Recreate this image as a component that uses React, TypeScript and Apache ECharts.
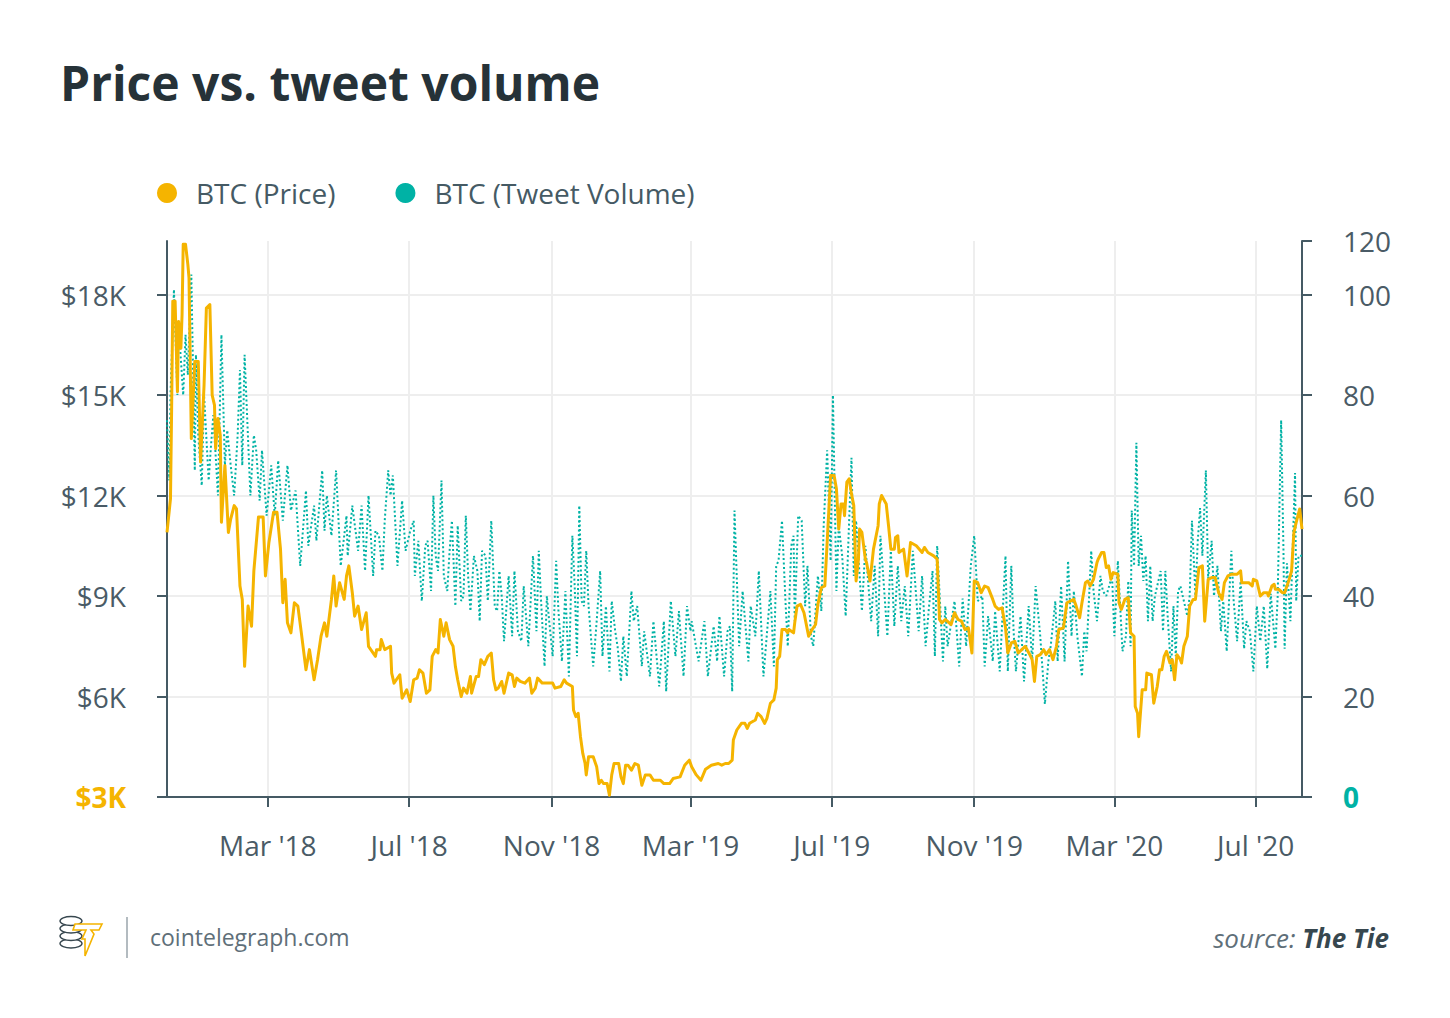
import React, { useEffect, useRef } from "react";
import * as echarts from "echarts";

// ---------- data ----------
// x categories: one per day, starting at START_DATE
const START_DATE = Date.UTC(2017, 11, 4);
const DAY_COUNT = 981;
const MONTH_NAMES = ["Jan", "Feb", "Mar", "Apr", "May", "Jun", "Jul", "Aug", "Sep", "Oct", "Nov", "Dec"];
const TICK_MONTHS = [3, 7, 11];

// left axis (price)
const PRICE_MIN = 3000;
const PRICE_MAX = 19600;
const PRICE_TICKS = [3000, 6000, 9000, 12000, 15000, 18000];
// right axis (tweet volume)
const TWEET_MIN = 0;
const TWEET_STEP = 20;
const TWEET_MAX = (PRICE_MAX - PRICE_MIN) / 150;
const TWEET_TOP_LABEL = "120";

const SERIES_NAMES = ["BTC (Price)", "BTC (Tweet Volume)"];

// [day index since START_DATE, USD]
const BTC_PRICE: [number, number][] = [
  [0, 10900], [3, 11900], [4, 14600], [5, 17800], [7, 17800], [9, 15100], [10, 17200], [12, 16400], [13, 17400], [14, 19500],
  [16, 19500], [18, 18900], [19, 18500], [21, 13700], [24, 16000], [27, 16000], [29, 13000], [32, 15300], [34, 17600], [37, 17700],
  [39, 15000], [41, 14700], [42, 13400], [44, 14300], [46, 13800], [47, 11200], [50, 12900], [53, 10900], [55, 11300], [58, 11700],
  [60, 11600], [63, 9300], [65, 8900], [67, 6900], [70, 8700], [73, 8100], [75, 9750], [79, 11360], [83, 11360], [85, 9600],
  [88, 10600], [92, 11500], [95, 11500], [98, 10400], [100, 8800], [102, 9500], [104, 8200], [107, 7900], [110, 8800], [113, 8700],
  [116, 7900], [120, 6800], [123, 7400], [127, 6500], [130, 7100], [133, 7800], [136, 8200], [138, 7800], [142, 8900], [144, 9600],
  [146, 8700], [149, 9400], [153, 8900], [155, 9600], [157, 9900], [160, 9100], [162, 8400], [165, 8700], [168, 8000], [172, 8500],
  [174, 7500], [180, 7200], [181, 7400], [184, 7400], [185, 7700], [188, 7400], [193, 7500], [194, 6700], [196, 6400], [201, 6650],
  [203, 5950], [207, 6200], [210, 5850], [213, 6500], [216, 6550], [218, 6800], [221, 6700], [224, 6100], [227, 6200], [229, 7200],
  [232, 7400], [234, 7300], [236, 8300], [239, 7800], [241, 8200], [244, 7700], [247, 7500], [249, 6900], [251, 6500], [254, 6000],
  [256, 6250], [259, 6100], [262, 6600], [263, 6100], [267, 6600], [269, 6600], [271, 7100], [274, 6950], [277, 7200], [280, 7300],
  [282, 6500], [284, 6200], [286, 6250], [289, 6450], [291, 6100], [295, 6700], [298, 6650], [300, 6300], [302, 6550], [305, 6450],
  [309, 6400], [313, 6550], [315, 6100], [318, 6250], [320, 6550], [324, 6400], [333, 6400], [335, 6250], [340, 6300], [343, 6500],
  [345, 6400], [350, 6300], [351, 5600], [353, 5400], [355, 5500], [357, 4800], [359, 4300], [361, 4000], [362, 3660], [364, 4200],
  [368, 4200], [371, 3900], [373, 3400], [375, 3500], [377, 3400], [380, 3400], [382, 3050], [384, 3660], [386, 4000], [390, 4000],
  [392, 3600], [394, 3400], [396, 3950], [398, 3950], [401, 3800], [404, 4000], [407, 3950], [410, 3350], [413, 3660], [417, 3660],
  [420, 3500], [426, 3500], [429, 3400], [434, 3400], [437, 3550], [443, 3600], [447, 3950], [451, 4100], [453, 3900], [457, 3660],
  [461, 3500], [465, 3830], [470, 3950], [476, 4000], [479, 3950], [482, 4000], [485, 4000], [488, 4100], [489, 4700], [492, 5000],
  [496, 5200], [499, 5200], [501, 5050], [503, 5200], [508, 5300], [510, 5500], [513, 5400], [516, 5200], [518, 5350], [521, 5800],
  [524, 5900], [526, 6250], [527, 7100], [529, 7200], [531, 8000], [534, 8000], [536, 7900], [537, 8000], [541, 7900], [542, 8200],
  [544, 8700], [547, 8750], [550, 8500], [554, 7800], [557, 8000], [560, 8150], [562, 8750], [565, 9250], [568, 9300], [570, 10600],
  [573, 12600], [576, 12600], [578, 12200], [580, 11000], [582, 11750], [584, 11750], [585, 11400], [587, 12400], [589, 12500], [591, 12050],
  [593, 11700], [595, 9450], [597, 10100], [598, 11000], [600, 10900], [603, 10100], [604, 10000], [607, 9450], [610, 10400], [614, 11100],
  [615, 11750], [617, 12000], [621, 11750], [623, 11100], [625, 10400], [628, 10400], [629, 10750], [631, 10800], [632, 10300], [636, 10400],
  [639, 9600], [642, 10600], [647, 10500], [652, 10300], [654, 10450], [657, 10300], [662, 10200], [665, 10100], [667, 8300], [669, 8200],
  [672, 8300], [677, 8150], [680, 8500], [683, 8300], [686, 8250], [689, 8000], [692, 8050], [695, 7300], [697, 9450], [700, 9400],
  [703, 9100], [706, 9300], [709, 9250], [713, 8900], [715, 8700], [718, 8600], [721, 8650], [724, 8050], [726, 7300], [729, 7600],
  [732, 7650], [735, 7300], [738, 7400], [741, 7500], [745, 7250], [747, 7100], [749, 6450], [751, 7200], [754, 7250], [757, 7400],
  [759, 7250], [762, 7400], [765, 7100], [768, 7500], [770, 8000], [774, 8050], [777, 8800], [780, 8850], [783, 8900], [785, 8700],
  [788, 8350], [790, 8800], [793, 9400], [795, 9450], [797, 9300], [800, 9500], [803, 10000], [804, 10100], [807, 10300], [809, 10300],
  [811, 9850], [813, 9900], [815, 9500], [817, 9700], [821, 9650], [822, 8800], [824, 8600], [827, 8900], [830, 8950], [832, 7900],
  [835, 7800], [836, 5700], [838, 5500], [839, 4800], [842, 6200], [845, 6200], [846, 6700], [850, 6650], [852, 5800], [855, 6300],
  [857, 6800], [859, 6800], [861, 7200], [863, 7350], [866, 7000], [868, 7100], [870, 6500], [872, 7250], [875, 7100], [876, 7000],
  [878, 7500], [881, 7800], [883, 8700], [886, 8900], [888, 8900], [891, 9850], [894, 9900], [896, 8250], [899, 9500], [902, 9550],
  [905, 9550], [908, 9100], [911, 8900], [913, 9400], [916, 9600], [919, 9650], [924, 9650], [927, 9750], [928, 9400], [931, 9400],
  [934, 9400], [937, 9300], [938, 9500], [941, 9450], [944, 9000], [947, 9100], [950, 9100], [951, 9000], [954, 9300], [956, 9350],
  [957, 9200], [960, 9200], [963, 9100], [965, 9100], [967, 9300], [969, 9500], [971, 9750], [973, 10900], [975, 11200], [978, 11600],
  [980, 11000],
];

// [day index since START_DATE, tweet volume]
const BTC_TWEETS: [number, number][] = [
  [0, 75], [2, 63], [3, 80], [6, 101], [9, 80], [10, 94], [14, 80], [16, 92], [18, 84], [21, 104],
  [24, 65], [25, 88], [27, 72], [30, 62], [32, 80], [36, 63], [38, 70], [40, 76], [44, 60], [47, 92],
  [50, 66], [52, 73], [55, 66], [58, 60], [61, 72], [63, 85], [65, 66], [67, 88], [72, 60], [75, 72],
  [77, 69], [80, 59], [82, 69], [86, 56], [90, 66], [93, 56], [96, 67], [100, 55], [104, 66], [107, 57],
  [111, 61], [115, 46], [120, 61], [122, 50], [127, 58], [129, 51], [134, 65], [136, 53], [138, 60], [142, 52],
  [146, 65], [150, 46], [155, 56], [156, 48], [160, 58], [165, 49], [168, 58], [171, 45], [174, 60], [178, 44],
  [180, 53], [183, 52], [186, 45], [188, 55], [191, 65], [193, 60], [195, 64], [199, 46], [203, 59], [206, 49],
  [210, 53], [213, 55], [214, 44], [217, 51], [220, 39], [223, 50], [225, 51], [228, 41], [230, 60], [232, 48],
  [234, 45], [237, 63], [239, 44], [242, 41], [244, 49], [246, 55], [249, 38], [251, 54], [254, 39], [256, 40],
  [258, 56], [260, 44], [262, 37], [265, 48], [268, 45], [270, 35], [272, 49], [275, 48], [277, 39], [280, 55],
  [283, 38], [285, 37], [287, 45], [289, 40], [291, 31], [295, 44], [298, 32], [300, 45], [303, 33], [306, 31],
  [308, 42], [312, 30], [314, 39], [316, 48], [319, 33], [321, 49], [323, 39], [326, 26], [328, 40], [330, 35],
  [333, 28], [336, 47], [338, 37], [341, 27], [344, 41], [347, 24], [350, 52], [352, 42], [354, 28], [356, 58],
  [358, 39], [360, 38], [362, 49], [364, 38], [368, 26], [371, 35], [374, 45], [376, 28], [379, 38], [382, 25],
  [384, 39], [387, 33], [389, 30], [392, 23], [394, 32], [397, 24], [401, 41], [403, 35], [406, 38], [410, 26],
  [412, 33], [417, 24], [420, 35], [425, 22], [429, 35], [431, 21], [435, 39], [439, 28], [442, 37], [446, 24],
  [449, 38], [452, 33], [453, 35], [459, 27], [464, 35], [467, 24], [472, 34], [475, 27], [477, 36], [481, 24],
  [484, 33], [486, 34], [488, 21], [490, 57], [494, 30], [497, 41], [502, 27], [504, 38], [508, 32], [511, 45],
  [515, 24], [521, 41], [524, 26], [526, 46], [528, 47], [531, 55], [534, 39], [536, 30], [539, 50], [541, 52],
  [542, 35], [545, 56], [548, 55], [551, 38], [553, 46], [556, 32], [558, 30], [562, 44], [565, 37], [567, 54],
  [570, 69], [573, 47], [575, 80], [578, 41], [580, 54], [583, 48], [586, 36], [589, 55], [591, 67.5], [593, 44],
  [595, 55], [600, 37], [603, 50], [608, 35], [611, 46], [614, 32], [616, 52], [619, 42], [622, 32], [625, 49],
  [628, 34], [631, 46], [634, 35], [637, 42], [640, 32], [644, 49], [649, 33], [652, 44], [655, 30], [658, 38],
  [661, 45], [663, 28], [665, 50], [670, 27], [672, 38], [674, 30], [680, 39], [684, 26], [687, 39.5], [690, 30],
  [694, 46], [697, 52], [700, 39], [704, 40], [706, 26], [709, 36], [713, 27], [715, 37], [719, 25], [724, 48],
  [726, 25], [729, 46], [731, 33], [733, 25], [737, 36], [740, 23], [744, 38], [747, 27], [750, 42], [754, 32],
  [758, 18.5], [761, 27], [763, 30], [767, 39], [769, 27], [772, 42], [775, 27], [778, 47], [781, 32], [783, 41],
  [786, 32], [790, 24], [792, 33], [794, 29], [798, 49], [800, 41], [803, 35], [806, 44], [808, 41], [811, 40],
  [816, 44], [818, 32], [821, 47], [825, 29], [828, 32], [830, 43], [832, 30], [833, 57], [835, 46], [837, 70.5],
  [839, 46], [841, 52], [843, 43], [845, 48], [847, 35], [849, 46], [851, 35], [853, 40], [858, 45], [860, 33],
  [862, 45], [864, 36], [867, 25], [869, 38], [871, 28], [873, 41], [875, 42], [878, 39], [881, 36], [883, 40],
  [885, 55], [888, 40], [890, 51], [892, 57.5], [894, 48], [897, 65], [899, 43.5], [902, 51], [904, 40], [907, 46],
  [910, 33], [912, 39], [915, 29], [919, 49], [921, 39], [924, 31], [927, 43], [930, 29.5], [932, 35], [935, 33],
  [938, 25], [941, 38], [944, 31], [947, 38], [950, 25.5], [953, 40.5], [957, 29.5], [959, 40], [962, 75], [964, 49],
  [965, 29.5], [967, 46.5], [970, 35], [974, 64.5], [975, 39], [977, 48], [980, 48],
];

// ---------- styles ----------
const FONT = "'Open Sans', 'Noto Sans', sans-serif";
const ORANGE = "#f5b400";
const TEAL = "#00b2a5";
const AXIS = "#455a64";
const LABEL = "#4a5b66";
const GRID = "#eeeeee";
const FS = 28;

function buildDates(): string[] {
  const out: string[] = [];
  for (let i = 0; i < DAY_COUNT; i++) {
    out.push(new Date(START_DATE + i * 86400000).toISOString().slice(0, 10));
  }
  return out;
}

function isTickDate(_i: number, value: string): boolean {
  const month = Number(value.slice(5, 7));
  return value.slice(8, 10) === "01" && TICK_MONTHS.indexOf(month) >= 0;
}

function formatDate(value: string): string {
  const month = Number(value.slice(5, 7));
  return `${MONTH_NAMES[month - 1]} '${value.slice(2, 4)}`;
}

export default function App() {
  const ref = useRef<HTMLDivElement>(null);

  useEffect(() => {
    if (!ref.current) return;
    const chart = echarts.init(ref.current, undefined, { renderer: "svg" });
    const dates = buildDates();

    const coinEllipses = [3, 2, 1, 0].map((k) => ({
      type: "ellipse",
      shape: { cx: 71, cy: 921 + k * 7.5, rx: 11, ry: 4.5 },
      style: { fill: "#ffffff", stroke: "#37474f", lineWidth: 1.4 },
      z: 10,
    }));

    chart.setOption({
      animation: false,
      backgroundColor: "#ffffff",
      textStyle: { fontFamily: FONT },
      title: {
        text: "Price vs. tweet volume",
        left: 55,
        top: 53,
        textStyle: { fontFamily: FONT, fontSize: 48, fontWeight: "bold", color: "#263238" },
      },
      legend: {
        left: 152,
        top: 174,
        icon: "circle",
        itemWidth: 20,
        itemHeight: 20,
        itemGap: 60,
        data: SERIES_NAMES,
        itemStyle: { borderWidth: 0 },
        textStyle: { fontFamily: FONT, fontSize: FS, color: AXIS, padding: [0, 0, 0, 14] },
      },
      grid: { left: 167, right: 148, top: 241, bottom: 221, containLabel: false, outerBoundsMode: "none" },
      xAxis: {
        type: "category",
        data: dates,
        boundaryGap: false,
        axisLine: { onZero: false, lineStyle: { color: AXIS, width: 2 } },
        axisTick: { interval: isTickDate, length: 10, lineStyle: { color: AXIS, width: 2 } },
        axisLabel: {
          interval: isTickDate,
          formatter: formatDate,
          margin: 34,
          fontSize: FS,
          color: LABEL,
          fontFamily: FONT,
        },
        splitLine: { show: true, interval: isTickDate, lineStyle: { color: GRID, width: 2 } },
      },
      yAxis: [
        {
          type: "value",
          position: "left",
          min: PRICE_MIN,
          max: PRICE_MAX,
          interval: 3000,
          axisLine: { show: true, lineStyle: { color: AXIS, width: 2 } },
          axisTick: { show: true, length: 10, customValues: PRICE_TICKS, lineStyle: { color: AXIS, width: 2 } },
          axisLabel: {
            customValues: PRICE_TICKS,
            margin: 41,
            fontSize: FS,
            color: LABEL,
            fontFamily: FONT,
            formatter: (v: number) => (v === PRICE_MIN ? `{min|$${v / 1000}K}` : `$${v / 1000}K`),
            rich: { min: { color: ORANGE, fontWeight: "bold", fontSize: FS, fontFamily: FONT } },
          },
          splitLine: { show: true, lineStyle: { color: GRID, width: 2 } },
        },
        {
          type: "value",
          position: "right",
          min: TWEET_MIN,
          max: TWEET_MAX,
          interval: TWEET_STEP,
          axisLine: { show: true, lineStyle: { color: AXIS, width: 2 } },
          axisTick: { show: true, length: 10, lineStyle: { color: AXIS, width: 2 } },
          axisLabel: {
            margin: 41,
            fontSize: FS,
            color: LABEL,
            fontFamily: FONT,
            showMaxLabel: true,
            formatter: (v: number) =>
              v === TWEET_MIN ? `{zero|${v}}` : Math.abs(v - TWEET_MAX) < 1e-6 ? TWEET_TOP_LABEL : String(v),
            rich: { zero: { color: TEAL, fontWeight: "bold", fontSize: FS, fontFamily: FONT } },
          },
          splitLine: { show: false },
        },
      ],
      series: [
        {
          name: SERIES_NAMES[1],
          type: "line",
          yAxisIndex: 1,
          data: BTC_TWEETS,
          symbol: "none",
          z: 2,
          itemStyle: { color: TEAL },
          lineStyle: { color: TEAL, width: 2, type: [2, 2.5] },
        },
        {
          name: SERIES_NAMES[0],
          type: "line",
          yAxisIndex: 0,
          data: BTC_PRICE,
          symbol: "none",
          z: 3,
          itemStyle: { color: ORANGE },
          lineStyle: { color: ORANGE, width: 3, join: "round" },
        },
      ],
      graphic: [
        ...coinEllipses,
        {
          type: "polygon",
          shape: {
            points: [[75, 924], [102, 924], [99, 930], [91, 930], [94, 934], [85, 956], [85, 939], [82, 939], [86, 930], [73, 930]],
          },
          style: { fill: "#ffffff", stroke: ORANGE, lineWidth: 1.6 },
          z: 11,
        },
        {
          type: "line",
          shape: { x1: 127, y1: 917, x2: 127, y2: 958 },
          style: { stroke: "#9aa5ab", lineWidth: 1.5 },
        },
        {
          type: "text",
          x: 150,
          y: 937,
          style: { text: "cointelegraph.com", fill: "#5f6f79", font: `23px ${FONT}`, verticalAlign: "middle", align: "left" },
        },
        {
          type: "text",
          x: 1389,
          y: 938,
          style: {
            text: "{s|source: }{t|The Tie}",
            align: "right",
            verticalAlign: "middle",
            rich: {
              s: { fontFamily: FONT, fontSize: 26, fontStyle: "italic", fill: "#5f6f79", color: "#5f6f79" },
              t: { fontFamily: FONT, fontSize: 26, fontStyle: "italic", fontWeight: "bold", fill: "#37474f", color: "#37474f" },
            },
          },
        },
      ],
    });

    return () => chart.dispose();
  }, []);

  return <div ref={ref} style={{ position: "fixed", left: 0, top: 0, width: 1450, height: 1018 }} />;
}
